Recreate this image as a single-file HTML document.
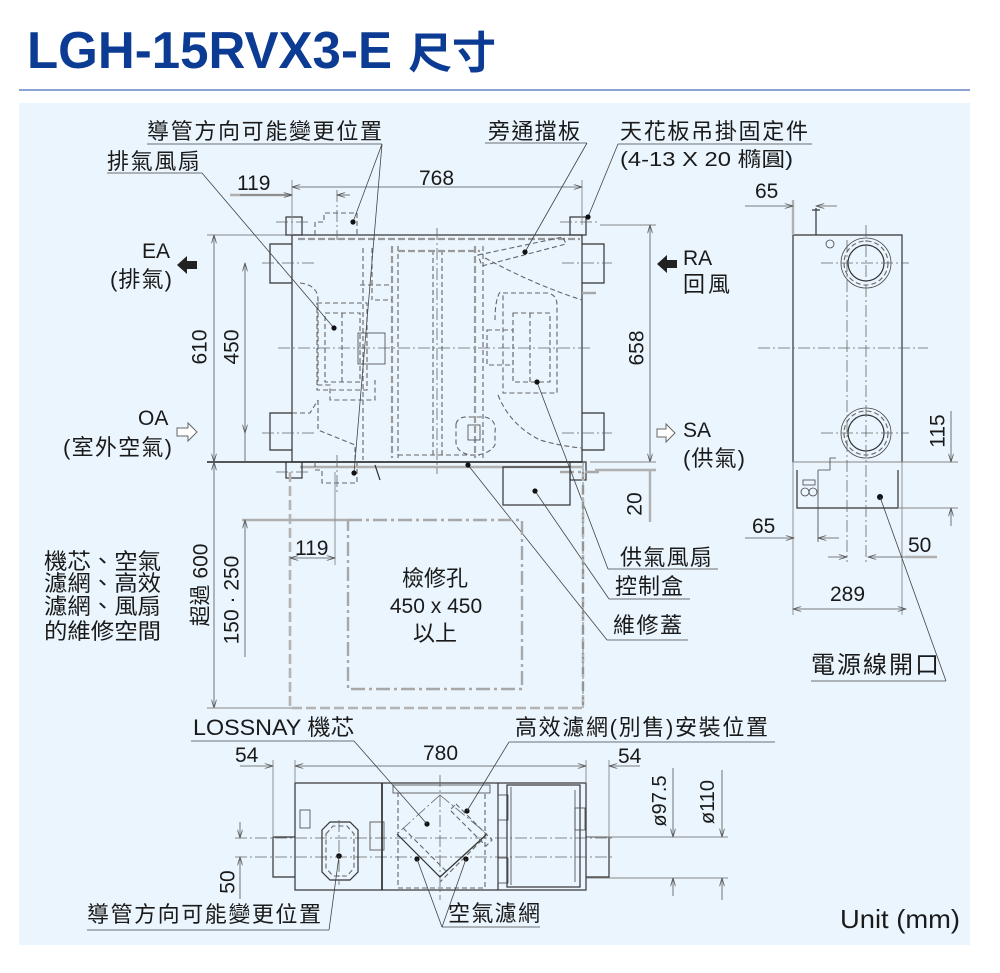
<!DOCTYPE html>
<html><head><meta charset="utf-8"><style>
html,body{margin:0;padding:0;background:#fff;}
svg{display:block;}
text{font-family:"Liberation Sans","Noto Sans CJK TC",sans-serif;fill:#1a1a1a;}
.k{stroke:#333;stroke-width:1.2;fill:none}
.k2{stroke:#222;stroke-width:1.6;fill:none}
.t{stroke:#444;stroke-width:0.8;fill:none}
.h{stroke:#666;stroke-width:1.1;fill:none;stroke-dasharray:5 3}
.hg{stroke:#9a9a9a;stroke-width:2.2;fill:none;stroke-dasharray:7 3}
.c{stroke:#666;stroke-width:0.8;fill:none;stroke-dasharray:12 3 2 3}
.g{stroke:#b4b4b4;stroke-width:2.6;fill:none;stroke-dasharray:10 4}
.gc{stroke:#a8a8a8;stroke-width:2.4;fill:none;stroke-dasharray:14 4 3 4}
.e{stroke:#888;stroke-width:0.9;fill:none}
.eg{stroke:#b0b0b0;stroke-width:2.4;fill:none}
.d{stroke:#555;stroke-width:0.8;fill:none}
.lbl{font-size:22px}
.num{font-size:21px}
</style></head><body>
<svg width="1000" height="973" viewBox="0 0 1000 973" xmlns="http://www.w3.org/2000/svg">
<defs>
<marker id="ar" viewBox="0 0 10 6" refX="10" refY="3" markerWidth="9" markerHeight="5" markerUnits="userSpaceOnUse" orient="auto-start-reverse"><path d="M0,0 L10,3 L0,6" fill="none" stroke="#555" stroke-width="1"/></marker>
</defs>
<rect x="0" y="0" width="1000" height="973" fill="#fff"/>
<!-- Title -->
<text x="27" y="68" font-size="52" font-weight="bold" textLength="365" lengthAdjust="spacingAndGlyphs" style="fill:#0b3b92">LGH-15RVX3-E</text>
<text x="408" y="68" font-size="44" font-weight="bold" textLength="88" style="fill:#0b3b92">尺寸</text>
<line x1="19" y1="90" x2="970" y2="90" stroke="#8aa3d4" stroke-width="2"/>
<!-- panel -->
<rect x="19" y="103" width="951" height="842" fill="#eaf5fd"/>

<!-- ===== TOP VIEW ===== -->
<rect x="292" y="235" width="290" height="227" class="k"/>
<line x1="207" y1="235" x2="292" y2="235" class="e"/>
<line x1="298" y1="239" x2="580" y2="239" class="hg"/>
<line x1="207" y1="462" x2="582" y2="462" class="k2"/>
<line x1="300" y1="467" x2="582" y2="467" class="eg"/>
<path d="M292,244 H270 V283 H292 M292,413 H270 V450 H292" class="k"/>
<path d="M582,244 H604 V283 H582 M582,413 H604 V450 H582" class="k"/>
<path d="M315,235 V222 H324 V213 H357 V235" class="h"/>
<path d="M315,462 V470 H322 V483 H357 V462" class="h"/>
<rect x="286" y="217" width="16" height="18" class="k"/>
<rect x="570" y="217" width="16" height="18" class="k"/>
<rect x="286" y="462" width="16" height="16" class="k"/>
<rect x="570" y="462" width="16" height="18" class="k"/>
<line x1="276" y1="222" x2="310" y2="222" class="c"/>
<line x1="276" y1="472" x2="310" y2="472" class="c"/>
<line x1="560" y1="222" x2="600" y2="222" class="c"/>
<line x1="560" y1="472" x2="600" y2="472" class="gc"/>
<line x1="437" y1="228" x2="437" y2="474" class="c"/>
<line x1="278" y1="348" x2="593" y2="348" class="c"/>
<line x1="262" y1="263" x2="315" y2="263" class="c"/>
<line x1="262" y1="433" x2="315" y2="433" class="c"/>
<line x1="562" y1="263" x2="612" y2="263" class="c"/>
<line x1="562" y1="433" x2="612" y2="433" class="c"/>
<line x1="337" y1="190" x2="337" y2="240" class="c"/>
<line x1="337" y1="455" x2="337" y2="495" class="c"/>
<line x1="392" y1="246" x2="392" y2="458" class="hg"/>
<line x1="398" y1="246" x2="398" y2="458" class="h"/>
<line x1="433" y1="250" x2="433" y2="456" class="h"/>
<line x1="442" y1="250" x2="442" y2="456" class="h"/>
<line x1="475" y1="246" x2="475" y2="458" class="hg"/>
<line x1="483" y1="246" x2="483" y2="458" class="h"/>
<line x1="398" y1="251" x2="480" y2="251" class="hg"/>
<line x1="398" y1="455" x2="480" y2="455" class="h"/>
<line x1="363" y1="248" x2="363" y2="460" class="h"/>
<line x1="372" y1="248" x2="372" y2="300" class="h"/>
<path d="M300,283 Q318,285 318,300 V385 H330 V400 H375 V380" class="h"/>
<rect x="317" y="303" width="50" height="87" class="h"/>
<rect x="325" y="313" width="35" height="69" class="h"/>
<line x1="342" y1="313" x2="342" y2="382" class="h"/>
<rect x="358" y="333" width="27" height="31" class="t"/>
<path d="M292,413 H310 L318,400 M318,400 V430 L355,445 V462" class="h"/>
<path d="M375,300 H392 M360,285 H392" class="h"/>
<path d="M503,293 H548 Q557,295 557,305 V393 H503 Z" class="h"/>
<rect x="513" y="313" width="37" height="69" class="h"/>
<line x1="530" y1="313" x2="530" y2="382" class="h"/>
<rect x="487" y="330" width="26" height="35" class="h"/>
<path d="M485,258 Q535,285 582,300" class="h"/>
<path d="M498,395 Q510,425 540,440 Q560,446 582,448" class="h"/>
<path d="M500,292 Q495,300 495,320" class="h"/>
<line x1="582" y1="293" x2="600" y2="293" class="gc"/>
<path d="M478,255 L563,237 L566,244 L482,266 Z" class="h"/>
<path d="M456,424 Q458,416 470,417 L485,417 Q497,420 495,432 L495,445 Q488,456 470,455 Q455,452 456,440 Z" class="h"/>
<rect x="468" y="425" width="12" height="15" class="t"/>
<rect x="503" y="467" width="67" height="38" class="k"/>
<line x1="375" y1="465" x2="380" y2="480" class="k"/>
<line x1="292" y1="180" x2="292" y2="235" class="e"/>
<line x1="582" y1="180" x2="582" y2="225" class="e"/>
<line x1="292" y1="187" x2="582" y2="187" class="d" marker-start="url(#ar)" marker-end="url(#ar)"/>
<line x1="230" y1="195" x2="292" y2="195" class="eg" stroke-width="2"/>
<line x1="240" y1="195" x2="292" y2="195" class="d" marker-end="url(#ar)"/>
<line x1="350" y1="195" x2="337" y2="195" class="d" marker-end="url(#ar)"/>
<line x1="214" y1="235" x2="214" y2="462" class="d" marker-start="url(#ar)" marker-end="url(#ar)"/>
<line x1="245" y1="263" x2="245" y2="433" class="d" marker-start="url(#ar)" marker-end="url(#ar)"/>
<line x1="245" y1="433" x2="245" y2="462" class="d"/>
<line x1="600" y1="225" x2="656" y2="225" class="e"/>
<line x1="650" y1="225" x2="650" y2="462" class="d" marker-start="url(#ar)" marker-end="url(#ar)"/>
<line x1="590" y1="462" x2="656" y2="462" class="e"/>
<line x1="595" y1="470" x2="656" y2="470" class="eg"/>
<line x1="650" y1="470" x2="650" y2="522" class="eg" stroke-width="1.6"/>
<text x="147" y="139" class="lbl" textLength="235">導管方向可能變更位置</text>
<line x1="147" y1="144" x2="382" y2="144" class="t"/>
<text x="107" y="169" class="lbl" textLength="93">排氣風扇</text>
<line x1="107" y1="173" x2="202" y2="173" class="t"/>
<text x="488" y="139" class="lbl" textLength="92">旁通擋板</text>
<line x1="485" y1="143" x2="587" y2="143" class="t"/>
<text x="620" y="139" class="lbl" textLength="188">天花板吊掛固定件</text>
<line x1="618" y1="144" x2="812" y2="144" class="t"/>
<text x="620" y="166" font-size="20" textLength="173" lengthAdjust="spacingAndGlyphs">(4-13 X 20 橢圓)</text>
<text x="237" y="190" class="num">119</text>
<text x="419" y="185" class="num">768</text>
<path d="M382,144 L353,222 M382,144 L354,473 M202,173 L334,328 M587,143 L525,252 M618,144 L588,217" class="t"/>
<path d="M608,569 L537,382 M609,599 L535,491 M607,640 L468,465" class="t"/>
<g fill="#111">
<circle cx="353" cy="222" r="2.6"/><circle cx="354" cy="473" r="2.6"/><circle cx="334" cy="328" r="2.6"/>
<circle cx="525" cy="252" r="2.6"/><circle cx="588" cy="217" r="2.6"/><circle cx="537" cy="382" r="2.6"/>
<circle cx="535" cy="491" r="2.6"/><circle cx="468" cy="465" r="2.6"/>
</g>
<text x="142" y="258" font-size="21">EA</text>
<text x="110" y="287" class="lbl" textLength="62">(排氣)</text>
<path d="M197,261 H187 V256 L177,265 L187,274 V269 H197 Z" fill="#222"/>
<text x="138" y="425" font-size="21">OA</text>
<text x="63" y="455" class="lbl" textLength="109">(室外空氣)</text>
<path d="M177,428 H188 V423 L197,432 L188,441 V436 H177 Z" fill="#fff" stroke="#666" stroke-width="1"/>
<path d="M677,260 H667 V255 L657,264 L667,273 V268 H677 Z" fill="#222"/>
<text x="683" y="265" font-size="21">RA</text>
<text x="683" y="292" class="lbl" textLength="47">回風</text>
<path d="M657,429 H666 V424 L675,433 L666,442 V437 H657 Z" fill="#fff" stroke="#666" stroke-width="1"/>
<text x="683" y="437" font-size="21">SA</text>
<text x="683" y="466" class="lbl" textLength="62">(供氣)</text>
<text transform="rotate(-90 200 347)" x="200" y="347" text-anchor="middle" dominant-baseline="central" class="num">610</text>
<text transform="rotate(-90 232 347)" x="232" y="347" text-anchor="middle" dominant-baseline="central" class="num">450</text>
<text transform="rotate(-90 637 348)" x="637" y="348" text-anchor="middle" dominant-baseline="central" class="num">658</text>
<text transform="rotate(-90 635 504)" x="635" y="504" text-anchor="middle" dominant-baseline="central" class="num">20</text>

<!-- ===== MAINTENANCE AREA ===== -->
<path d="M290,472 V708 H583 V472" class="g"/>
<rect x="348" y="520" width="174" height="169" class="gc" stroke-width="2"/>
<line x1="242" y1="520" x2="348" y2="520" class="eg"/>
<line x1="583" y1="462" x2="583" y2="708" class="c"/>
<line x1="335" y1="472" x2="335" y2="565" class="e"/>
<line x1="290" y1="558" x2="335" y2="558" class="d" marker-start="url(#ar)" marker-end="url(#ar)"/>
<text x="295" y="555" class="num">119</text>
<line x1="214" y1="462" x2="214" y2="708" class="d" marker-start="url(#ar)" marker-end="url(#ar)"/>
<line x1="207" y1="708" x2="292" y2="708" class="e"/>
<line x1="245" y1="520" x2="245" y2="657" class="d" marker-start="url(#ar)"/>
<text transform="rotate(-90 201 585)" x="201" y="585" text-anchor="middle" dominant-baseline="central" font-size="21">超過 600</text>
<text transform="rotate(-90 232 600)" x="232" y="600" text-anchor="middle" dominant-baseline="central" class="num">150 · 250</text>
<text x="435" y="586" text-anchor="middle" class="lbl">檢修孔</text>
<text x="436" y="613" text-anchor="middle" class="num">450 x 450</text>
<text x="435" y="641" text-anchor="middle" class="lbl">以上</text>
<text x="44" y="569" class="lbl" textLength="117" lengthAdjust="spacingAndGlyphs">機芯、空氣</text>
<text x="44" y="591" class="lbl" textLength="117" lengthAdjust="spacingAndGlyphs">濾網、高效</text>
<text x="44" y="614" class="lbl" textLength="117" lengthAdjust="spacingAndGlyphs">濾網、風扇</text>
<text x="44" y="639" class="lbl" textLength="117" lengthAdjust="spacingAndGlyphs">的維修空間</text>
<text x="620" y="565" class="lbl" textLength="92">供氣風扇</text>
<line x1="608" y1="569" x2="718" y2="569" class="t"/>
<text x="615" y="594" class="lbl" textLength="68">控制盒</text>
<line x1="609" y1="599" x2="690" y2="599" class="t"/>
<text x="613" y="633" class="lbl" textLength="69">維修蓋</text>
<line x1="607" y1="640" x2="688" y2="640" class="t"/>

<!-- ===== SIDE VIEW ===== -->
<path d="M793,462 V235 H902 V462" class="k"/>
<line x1="793" y1="462" x2="958" y2="462" class="e"/>
<path d="M797,470 V508 H898 V470" class="k"/>
<line x1="898" y1="508" x2="958" y2="508" class="e"/>
<line x1="793" y1="462" x2="793" y2="615" class="e"/>
<line x1="902" y1="462" x2="902" y2="615" class="e"/>
<line x1="793" y1="200" x2="793" y2="235" class="eg"/>
<line x1="816" y1="208" x2="816" y2="235" class="k"/>
<line x1="812" y1="210" x2="820" y2="210" class="k"/>
<circle cx="830" cy="244" r="4" class="t"/>
<circle cx="866" cy="263" r="25" class="t"/>
<circle cx="866" cy="263" r="22" class="h" stroke-width="1"/>
<circle cx="866" cy="263" r="18" class="k"/>
<circle cx="866" cy="433" r="25" class="t"/>
<circle cx="866" cy="433" r="22" class="h" stroke-width="1"/>
<circle cx="866" cy="433" r="18" class="k"/>
<line x1="847" y1="240" x2="847" y2="562" class="c"/>
<line x1="866" y1="225" x2="866" y2="562" class="c"/>
<line x1="821" y1="263" x2="909" y2="263" class="c"/>
<line x1="758" y1="348" x2="928" y2="348" class="c"/>
<line x1="821" y1="433" x2="909" y2="433" class="c"/>
<path d="M818,470 V542 M818,470 H830 V458 H836" class="t"/>
<circle cx="805" cy="492" r="4" class="t"/><circle cx="813" cy="492" r="4" class="t"/>
<rect x="803" y="480" width="12" height="5" class="t"/>
<circle cx="880" cy="497" r="3" fill="#111"/>
<line x1="745" y1="206" x2="793" y2="206" class="d" marker-end="url(#ar)"/>
<line x1="837" y1="206" x2="816" y2="206" class="d" marker-end="url(#ar)"/>
<text x="755" y="198" class="num">65</text>
<line x1="951" y1="411" x2="951" y2="462" class="d" marker-end="url(#ar)"/>
<line x1="951" y1="526" x2="951" y2="508" class="d" marker-end="url(#ar)"/>
<text transform="rotate(-90 938 431)" x="938" y="431" text-anchor="middle" dominant-baseline="central" class="num">115</text>
<line x1="745" y1="538" x2="794" y2="538" class="d" marker-end="url(#ar)"/>
<line x1="839" y1="538" x2="818" y2="538" class="d" marker-end="url(#ar)"/>
<text x="752" y="533" class="num">65</text>
<line x1="828" y1="557" x2="847" y2="557" class="d" marker-end="url(#ar)"/>
<line x1="937" y1="557" x2="868" y2="557" class="d" marker-end="url(#ar)"/>
<line x1="905" y1="557" x2="937" y2="557" class="eg"/>
<text x="908" y="552" class="num">50</text>
<line x1="793" y1="609" x2="906" y2="609" class="d" marker-start="url(#ar)" marker-end="url(#ar)"/>
<text x="830" y="601" class="num">289</text>
<text x="811" y="673" font-size="24" textLength="128">電源線開口</text>
<line x1="811" y1="681" x2="946" y2="681" class="t"/>
<line x1="946" y1="681" x2="880" y2="497" class="t"/>

<!-- ===== FRONT VIEW ===== -->
<rect x="295" y="783" width="291" height="107" class="k"/>
<path d="M295,837 H273 V877 H295" class="k"/>
<path d="M586,837 H609 V877 H586" class="k"/>
<line x1="587" y1="837" x2="728" y2="837" class="e"/>
<line x1="587" y1="878" x2="728" y2="878" class="e"/>
<line x1="235" y1="838" x2="612" y2="838" class="c"/>
<line x1="235" y1="857" x2="612" y2="857" class="c"/>
<line x1="440" y1="775" x2="440" y2="900" class="c"/>
<line x1="382" y1="783" x2="382" y2="890" class="k2"/>
<line x1="498" y1="783" x2="498" y2="890" class="k"/>
<rect x="393" y="785" width="97" height="8" class="t"/>
<rect x="398" y="793" width="87" height="95" class="h"/>
<path d="M440,795 L397,834 M440,795 L487,834" class="c"/>
<path d="M397,834 L440,877 L487,834" class="k"/>
<path d="M403,828 L446,871 M482,840 L440,882" class="h"/>
<path d="M456,804 L492,840 L486,846 L450,810 Z" class="h"/>
<rect x="498" y="795" width="10" height="25" class="t"/>
<rect x="498" y="858" width="10" height="25" class="t"/>
<rect x="370" y="822" width="14" height="28" class="t"/>
<rect x="507" y="785" width="73" height="102" class="k"/>
<line x1="511" y1="787" x2="511" y2="885" class="t"/>
<line x1="575" y1="790" x2="575" y2="882" class="t"/>
<rect x="575" y="808" width="10" height="22" class="t"/>
<rect x="300" y="810" width="10" height="18" class="t"/>
<path d="M322,830 L330,822 H350 L358,830 V872 L350,880 H330 L322,872 Z" class="k"/>
<path d="M326,834 L333,826 H347 L354,834 V868 L347,876 H333 L326,868 Z" class="h"/>
<line x1="339" y1="820" x2="339" y2="885" class="c"/>
<g fill="#111">
<circle cx="339" cy="856" r="2.8"/><circle cx="427" cy="824" r="2.6"/><circle cx="467" cy="811" r="2.6"/>
<circle cx="417" cy="859" r="2.6"/><circle cx="466" cy="859" r="2.6"/>
</g>
<line x1="295" y1="760" x2="295" y2="783" class="e"/>
<line x1="586" y1="760" x2="586" y2="783" class="e"/>
<line x1="273" y1="760" x2="273" y2="837" class="e"/>
<line x1="609" y1="760" x2="609" y2="837" class="e"/>
<line x1="295" y1="766" x2="586" y2="766" class="d" marker-start="url(#ar)" marker-end="url(#ar)"/>
<line x1="240" y1="766" x2="273" y2="766" class="d" marker-end="url(#ar)"/>
<line x1="640" y1="766" x2="609" y2="766" class="d" marker-end="url(#ar)"/>
<text x="423" y="760" class="num">780</text>
<text x="235" y="762" class="num">54</text>
<text x="618" y="763" class="num">54</text>
<line x1="673" y1="768" x2="673" y2="837" class="d" marker-end="url(#ar)"/>
<line x1="673" y1="896" x2="673" y2="878" class="d" marker-end="url(#ar)"/>
<line x1="722" y1="770" x2="722" y2="837" class="d" marker-end="url(#ar)"/>
<line x1="722" y1="900" x2="722" y2="878" class="d" marker-end="url(#ar)"/>
<text transform="rotate(-90 660 801)" x="660" y="801" text-anchor="middle" dominant-baseline="central" font-size="20">ø97.5</text>
<text transform="rotate(-90 708 802)" x="708" y="802" text-anchor="middle" dominant-baseline="central" font-size="20">ø110</text>
<line x1="240" y1="822" x2="240" y2="838" class="d" marker-end="url(#ar)"/>
<line x1="240" y1="899" x2="240" y2="857" class="d" marker-end="url(#ar)"/>
<text transform="rotate(-90 228 882)" x="228" y="882" text-anchor="middle" dominant-baseline="central" class="num">50</text>
<text x="193" y="735" class="lbl" textLength="161" lengthAdjust="spacingAndGlyphs">LOSSNAY 機芯</text>
<line x1="191" y1="741" x2="354" y2="741" class="t"/>
<text x="515" y="735" class="lbl" textLength="253">高效濾網(別售)安裝位置</text>
<line x1="509" y1="742" x2="775" y2="742" class="t"/>
<text x="87" y="922" class="lbl" textLength="234">導管方向可能變更位置</text>
<line x1="87" y1="930" x2="329" y2="930" class="t"/>
<text x="448" y="921" class="lbl" textLength="92">空氣濾網</text>
<line x1="442" y1="927" x2="540" y2="927" class="t"/>
<path d="M354,741 L427,824 M509,742 L467,811 M329,930 L339,856 M442,927 L417,859 M442,927 L466,859" class="t"/>
<text x="840" y="928" font-size="26" textLength="120" lengthAdjust="spacingAndGlyphs">Unit (mm)</text>
</svg>
</body></html>
